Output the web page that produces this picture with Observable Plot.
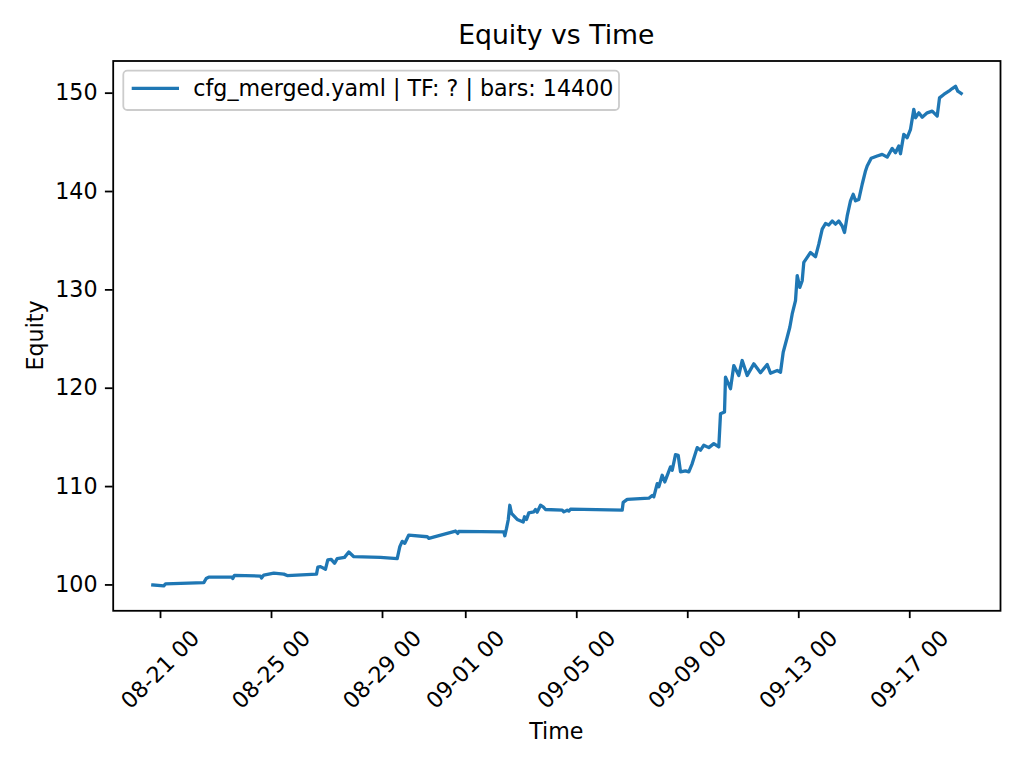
<!DOCTYPE html>
<html>
<head>
<meta charset="utf-8">
<script src="https://cdn.jsdelivr.net/npm/d3@7"></script>
<script src="https://cdn.jsdelivr.net/npm/@observablehq/plot@0.6"></script>
<style>
  html, body { margin: 0; padding: 0; background: #fff; }
  #chart { width: 1024px; height: 768px; }
</style>
</head>
<body>
<div id="chart"></div>
<script>
const times = [
  "2025-08-20T17:20Z","2025-08-21T02:50Z","2025-08-21T04:20Z","2025-08-22T13:27Z","2025-08-22T15:31Z","2025-08-22T17:46Z","2025-08-23T14:00Z","2025-08-23T14:32Z","2025-08-23T16:00Z","2025-08-24T14:29Z",
  "2025-08-24T15:21Z","2025-08-24T17:20Z","2025-08-25T01:59Z","2025-08-25T10:38Z","2025-08-25T13:35Z","2025-08-26T14:55Z","2025-08-26T16:03Z","2025-08-26T18:23Z","2025-08-26T22:42Z","2025-08-27T00:41Z",
  "2025-08-27T03:38Z","2025-08-27T06:29Z","2025-08-27T08:49Z","2025-08-27T15:08Z","2025-08-27T18:51Z","2025-08-27T23:11Z","2025-08-28T22:16Z","2025-08-29T12:43Z","2025-08-29T14:58Z","2025-08-29T17:02Z",
  "2025-08-29T19:17Z","2025-08-29T22:44Z","2025-08-30T14:40Z","2025-08-30T16:02Z","2025-08-31T15:08Z","2025-08-31T17:07Z","2025-08-31T17:59Z","2025-09-02T08:55Z","2025-09-02T09:47Z","2025-09-02T11:15Z",
  "2025-09-02T12:43Z","2025-09-02T14:06Z","2025-09-02T15:34Z","2025-09-02T20:30Z","2025-09-03T01:41Z","2025-09-03T02:49Z","2025-09-03T04:32Z","2025-09-03T06:32Z","2025-09-03T10:51Z","2025-09-03T12:19Z",
  "2025-09-03T13:47Z","2025-09-03T16:39Z","2025-09-03T18:59Z","2025-09-03T20:58Z","2025-09-04T11:25Z","2025-09-04T12:48Z","2025-09-04T15:44Z","2025-09-04T17:08Z","2025-09-04T18:35Z","2025-09-06T15:18Z",
  "2025-09-06T16:10Z","2025-09-06T19:38Z","2025-09-07T14:19Z","2025-09-07T17:15Z","2025-09-07T18:38Z","2025-09-07T21:35Z","2025-09-07T22:58Z","2025-09-08T01:54Z","2025-09-08T04:09Z","2025-09-08T09:05Z",
  "2025-09-08T10:33Z","2025-09-08T13:24Z","2025-09-08T15:44Z","2025-09-08T17:44Z","2025-09-08T22:03Z","2025-09-09T00:55Z","2025-09-09T03:51Z","2025-09-09T08:10Z","2025-09-09T11:02Z","2025-09-09T13:53Z",
  "2025-09-09T18:12Z","2025-09-09T22:32Z","2025-09-10T02:51Z","2025-09-10T04:19Z","2025-09-10T07:47Z","2025-09-10T08:39Z","2025-09-10T12:58Z","2025-09-10T15:50Z","2025-09-10T20:09Z","2025-09-10T23:05Z",
  "2025-09-11T03:25Z","2025-09-11T09:07Z","2025-09-11T14:55Z","2025-09-11T20:43Z","2025-09-11T23:34Z","2025-09-12T05:22Z","2025-09-12T08:13Z","2025-09-12T10:33Z","2025-09-12T14:01Z","2025-09-12T16:16Z",
  "2025-09-12T18:20Z","2025-09-12T21:11Z","2025-09-12T22:40Z","2025-09-13T00:54Z","2025-09-13T02:59Z","2025-09-13T04:22Z","2025-09-13T07:18Z","2025-09-13T10:10Z","2025-09-13T14:29Z","2025-09-13T17:20Z",
  "2025-09-13T20:17Z","2025-09-13T23:08Z","2025-09-14T01:59Z","2025-09-14T04:56Z","2025-09-14T07:47Z","2025-09-14T10:38Z","2025-09-14T13:34Z","2025-09-14T15:34Z","2025-09-14T17:54Z","2025-09-14T20:45Z",
  "2025-09-14T23:05Z","2025-09-15T01:05Z","2025-09-15T03:56Z","2025-09-15T06:52Z","2025-09-15T09:44Z","2025-09-15T11:11Z","2025-09-15T14:39Z","2025-09-15T19:51Z","2025-09-16T00:10Z","2025-09-16T04:29Z",
  "2025-09-16T08:49Z","2025-09-16T11:40Z","2025-09-16T14:32Z","2025-09-16T15:59Z","2025-09-16T18:51Z","2025-09-16T21:47Z","2025-09-17T00:39Z","2025-09-17T03:30Z","2025-09-17T04:58Z","2025-09-17T07:49Z",
  "2025-09-17T10:46Z","2025-09-17T15:05Z","2025-09-17T19:25Z","2025-09-17T23:44Z","2025-09-18T01:44Z","2025-09-18T05:27Z","2025-09-18T09:46Z","2025-09-18T12:43Z","2025-09-18T15:34Z","2025-09-18T17:33Z",
  "2025-09-18T20:29Z"
];
const equity = [
  100.0, 99.9, 100.1, 100.23, 100.65, 100.8, 100.8, 100.65, 100.98, 100.9,
  100.7, 101.0, 101.2, 101.1, 100.95, 101.1, 101.8, 101.86, 101.6, 102.54,
  102.6, 102.2, 102.67, 102.8, 103.35, 102.87, 102.8, 102.67, 103.9, 104.43,
  104.23, 105.07, 104.9, 104.73, 105.48, 105.24, 105.45, 105.4, 105.0, 105.75,
  106.6, 108.1, 107.27, 106.66, 106.4, 106.93, 106.66, 107.33, 107.43, 107.67,
  107.4, 108.1, 107.94, 107.67, 107.6, 107.43, 107.6, 107.5, 107.7, 107.6,
  108.4, 108.7, 108.82, 109.1, 108.96, 110.3, 109.97, 111.15, 110.47, 112.0,
  111.66, 113.25, 113.18, 111.5, 111.6, 111.5, 112.34, 113.96, 113.7, 114.2,
  113.96, 114.37, 114.03, 117.4, 117.58, 121.13, 119.95, 122.3, 121.3, 122.82,
  121.3, 122.48, 121.57, 122.41, 121.53, 121.8, 121.63, 123.66, 125.18, 126.2,
  127.55, 128.9, 131.44, 130.25, 130.93, 132.79, 133.3, 133.8, 133.37, 134.65,
  136.18, 136.75, 136.6, 137.0, 136.68, 137.0, 136.5, 135.83, 137.52, 139.05,
  139.72, 139.05, 139.2, 140.74, 142.09, 142.6, 143.38, 143.61, 143.78, 143.5,
  144.38, 143.94, 144.62, 143.84, 145.81, 145.47, 146.32, 148.35, 147.5, 148.0,
  147.56, 148.0, 148.17, 147.67, 149.52, 149.87, 150.2, 150.47, 150.7, 150.2,
  149.97
];
const xTicks = ["2025-08-21","2025-08-25","2025-08-29","2025-09-01","2025-09-05","2025-09-09","2025-09-13","2025-09-17"];
const yTicks = [100, 110, 120, 130, 140, 150];
const xLimits = ["2025-08-19T07:05Z", "2025-09-20T06:29Z"];
const yLimits = [97.37, 153.27];
const titleText = "Equity vs Time";
const xLabel = "Time";
const yLabel = "Equity";
const legendLabel = "cfg_merged.yaml | TF: ? | bars: 14400";

const data = times.map((t, i) => ({t: new Date(t), v: equity[i]}));
const tickDates = xTicks.map(s => new Date(s + "T00:00Z"));
const fmt = d3.utcFormat("%m-%d %H");
const color = "#1f77b4";
const FS = 22.2;

const W = 1024, H = 768;
const mL = 112.7, mR = 24, mT = 60.5, mB = 157.7;

const plot = Plot.plot({
  width: W, height: H,
  marginLeft: mL, marginRight: mR, marginTop: mT, marginBottom: mB,
  style: {fontFamily: "'DejaVu Sans', sans-serif", fontSize: FS + "px", background: "#fff", color: "#000"},
  x: {type: "utc", domain: xLimits.map(s => new Date(s)), label: null},
  y: {domain: yLimits, label: null},
  marks: [
    Plot.lineY(data, {x: "t", y: "v", stroke: color, strokeWidth: 3.3, strokeLinejoin: "round", strokeLinecap: "square"}),
    Plot.frame({stroke: "#000", strokeWidth: 1.8}),
    Plot.axisY({ticks: yTicks, tickSize: 7.8, tickPadding: 7.8, strokeWidth: 1.8, tickFormat: d => String(d), fontSize: FS, label: null}),
    Plot.axisX({ticks: tickDates, tickSize: 7.8, strokeWidth: 1.8, tickFormat: () => "", label: null}),
    Plot.text(tickDates, {x: d => d, frameAnchor: "bottom", dy: 59, rotate: -45, text: d => fmt(d), textAnchor: "middle", lineAnchor: "middle", fontSize: FS, fill: "#000"})
  ]
});
document.getElementById("chart").appendChild(plot);

const svg = d3.select(plot);
const cx = mL + (W - mL - mR) / 2;
const cy = mT + (H - mT - mB) / 2;
svg.append("text").attr("x", cx).attr("y", 44).attr("text-anchor", "middle")
  .attr("font-size", 26.7).attr("fill", "#000").text(titleText);
svg.append("text").attr("x", cx).attr("y", 739).attr("text-anchor", "middle")
  .attr("font-size", FS).attr("fill", "#000").text(xLabel);
svg.append("text").attr("transform", `translate(43,${cy}) rotate(-90)`).attr("text-anchor", "middle")
  .attr("font-size", FS).attr("fill", "#000").text(yLabel);

const lg = svg.append("g");
lg.append("rect").attr("x", 123.3).attr("y", 70.7).attr("width", 495.7).attr("height", 39.3)
  .attr("rx", 4).attr("fill", "#fff").attr("fill-opacity", 0.8).attr("stroke", "#cccccc").attr("stroke-width", 1.8);
lg.append("line").attr("x1", 131.7).attr("x2", 179).attr("y1", 88.3).attr("y2", 88.3)
  .attr("stroke", color).attr("stroke-width", 3.3);
lg.append("text").attr("x", 193.3).attr("y", 96).attr("text-anchor", "start")
  .attr("font-size", FS).attr("fill", "#000").text(legendLabel);
</script>
</body>
</html>
